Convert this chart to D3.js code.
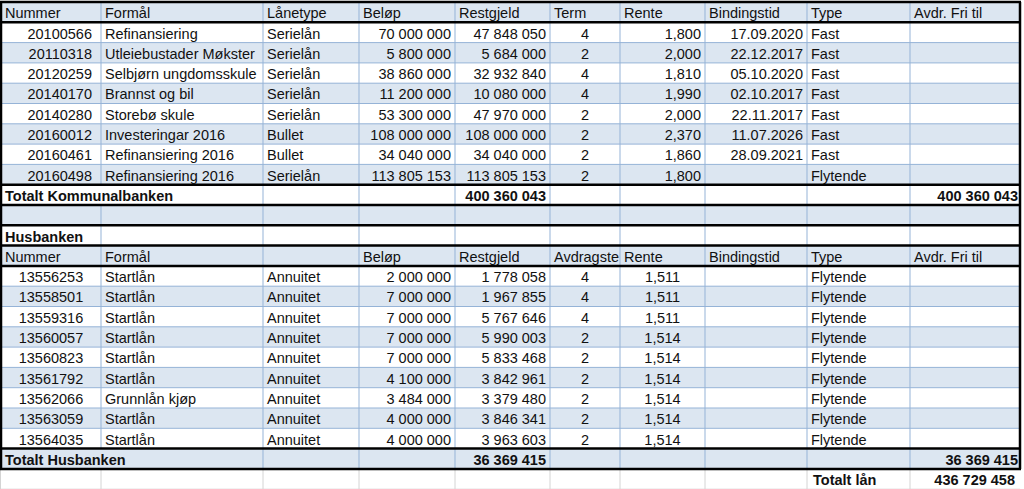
<!DOCTYPE html>
<html lang="no">
    <head>
        <meta charset="utf-8">
        <title>Lånoversikt</title>
        <script type="text/javascript" src="https://cdn.jsdelivr.net/npm/d3@7"></script>
        <style type="text/css">
            body { margin: 0; background: #fff; }
            svg text { font-family: "Liberation Sans", Arial, sans-serif; font-size: 14.5px; fill: #111; }
            svg text.bold { font-weight: bold; }
        </style>
    </head>

    <body>
        <script type="text/javascript">
            // Kommunalbanken
            var kbHeaders = ["Nummer", "Formål", "Lånetype", "Beløp", "Restgjeld", "Term", "Rente", "Bindingstid", "Type", "Avdr. Fri til"];
            var kbNummer = ["20100566", "20110318", "20120259", "20140170", "20140280", "20160012", "20160461", "20160498"];
            var kbFormal = ["Refinansiering", "Utleiebustader Møkster", "Selbjørn ungdomsskule", "Brannst og bil", "Storebø skule", "Investeringar 2016", "Refinansiering 2016", "Refinansiering 2016"];
            var kbLanetype = ["Serielån", "Serielån", "Serielån", "Serielån", "Serielån", "Bullet", "Bullet", "Serielån"];
            var kbBelop = [70000000, 5800000, 38860000, 11200000, 53300000, 108000000, 34040000, 113805153];
            var kbRestgjeld = [47848050, 5684000, 32932840, 10080000, 47970000, 108000000, 34040000, 113805153];
            var kbTerm = [4, 2, 4, 4, 2, 2, 2, 2];
            var kbRente = [1.800, 2.000, 1.810, 1.990, 2.000, 2.370, 1.860, 1.800];
            var kbBinding = ["17.09.2020", "22.12.2017", "05.10.2020", "02.10.2017", "22.11.2017", "11.07.2026", "28.09.2021", ""];
            var kbType = ["Fast", "Fast", "Fast", "Fast", "Fast", "Fast", "Fast", "Flytende"];

            // Husbanken
            var hbHeaders = ["Nummer", "Formål", "", "Beløp", "Restgjeld", "Avdragste", "Rente", "Bindingstid", "Type", "Avdr. Fri til"];
            var hbNummer = ["13556253", "13558501", "13559316", "13560057", "13560823", "13561792", "13562066", "13563059", "13564035"];
            var hbFormal = ["Startlån", "Startlån", "Startlån", "Startlån", "Startlån", "Startlån", "Grunnlån kjøp", "Startlån", "Startlån"];
            var hbLanetype = ["Annuitet", "Annuitet", "Annuitet", "Annuitet", "Annuitet", "Annuitet", "Annuitet", "Annuitet", "Annuitet"];
            var hbBelop = [2000000, 7000000, 7000000, 7000000, 7000000, 4100000, 3484000, 4000000, 4000000];
            var hbRestgjeld = [1778058, 1967855, 5767646, 5990003, 5833468, 3842961, 3379480, 3846341, 3963603];
            var hbAvdrag = [4, 4, 4, 2, 2, 2, 2, 2, 2];
            var hbRente = [1.511, 1.511, 1.511, 1.514, 1.514, 1.514, 1.514, 1.514, 1.514];
            var hbType = ["Flytende", "Flytende", "Flytende", "Flytende", "Flytende", "Flytende", "Flytende", "Flytende", "Flytende"];

            var w = 1024;
            var h = 489;
            var blue = "#dce6f1";
            var gridBlue = "#95b3d7";
            var gridGray = "#d4d4d4";

            // Norwegian number formats
            var no = d3.formatLocale({decimal: ",", thousands: " ", grouping: [3], currency: ["", ""]});
            var fmtInt = no.format(",d");
            var fmtRente = no.format(",.3f");

            var kbTotal = d3.sum(kbRestgjeld);
            var hbTotal = d3.sum(hbRestgjeld);

            // column edges
            var colEdges = [1, 101, 263, 359, 455, 550, 620, 705, 807, 910, 1020];
            var colKeys = d3.range(10);
            var x0 = d3.scaleOrdinal().domain(colKeys).range(colEdges.slice(0, 10));
            var x1 = d3.scaleOrdinal().domain(colKeys).range(colEdges.slice(1));

            // build rows: cells are {c, t, a (l|r|m), b, span}
            var rows = [];
            rows.push({cells: kbHeaders.map(function(t, i) { return {c: i, t: t, a: "l"}; })});
            kbNummer.forEach(function(n, i) {
                rows.push({cells: [
                    {c: 0, t: n, a: "r", pad: 9},
                    {c: 1, t: kbFormal[i], a: "l"},
                    {c: 2, t: kbLanetype[i], a: "l"},
                    {c: 3, t: fmtInt(kbBelop[i]), a: "r"},
                    {c: 4, t: fmtInt(kbRestgjeld[i]), a: "r"},
                    {c: 5, t: kbTerm[i], a: "m"},
                    {c: 6, t: fmtRente(kbRente[i]), a: "r"},
                    {c: 7, t: kbBinding[i], a: "r"},
                    {c: 8, t: kbType[i], a: "l"}
                ]});
            });
            rows.push({span: true, cells: [
                {c: 0, t: "Totalt Kommunalbanken", a: "l", b: true},
                {c: 4, t: fmtInt(kbTotal), a: "r", b: true},
                {c: 9, t: fmtInt(kbTotal), a: "r", b: true, pad: 2}
            ]});
            rows.push({cells: []});
            rows.push({cells: [{c: 0, t: "Husbanken", a: "l", b: true}]});
            rows.push({cells: hbHeaders.map(function(t, i) { return {c: i, t: t, a: "l"}; })});
            hbNummer.forEach(function(n, i) {
                rows.push({cells: [
                    {c: 0, t: n, a: "m"},
                    {c: 1, t: hbFormal[i], a: "l"},
                    {c: 2, t: hbLanetype[i], a: "l"},
                    {c: 3, t: fmtInt(hbBelop[i]), a: "r"},
                    {c: 4, t: fmtInt(hbRestgjeld[i]), a: "r"},
                    {c: 5, t: hbAvdrag[i], a: "m"},
                    {c: 6, t: fmtRente(hbRente[i]), a: "m"},
                    {c: 8, t: hbType[i], a: "l"}
                ]});
            });
            rows.push({span: true, cells: [
                {c: 0, t: "Totalt Husbanken", a: "l", b: true},
                {c: 4, t: fmtInt(hbTotal), a: "r", b: true},
                {c: 9, t: fmtInt(hbTotal), a: "r", b: true, pad: 2}
            ]});
            rows.push({outside: true, cells: [
                {c: 8, t: "Totalt lån", a: "l", b: true, pad: 6},
                {c: 9, t: fmtInt(kbTotal + hbTotal), a: "r", b: true, pad: 5}
            ]});

            var y = d3.scaleBand()
                        .domain(d3.range(rows.length))
                        .range([2, 2 + rows.length * 20.3]);

            var svg = d3.select("body")
                        .append("svg")
                        .attr("width", w)
                        .attr("height", h);

            // clip paths per column so header text like "Avdragste" is cut at cell edge
            var defs = svg.append("defs");
            colKeys.forEach(function(c) {
                defs.append("clipPath")
                    .attr("id", "clip" + c)
                    .append("rect")
                    .attr("x", x0(c))
                    .attr("y", 0)
                    .attr("width", x1(c) - x0(c))
                    .attr("height", h);
            });

            // row backgrounds (banded)
            svg.selectAll("rect.band")
                .data(rows)
                .enter()
                .append("rect")
                .attr("class", "band")
                .attr("x", colEdges[0])
                .attr("y", function(d, i) { return y(i); })
                .attr("width", colEdges[10] - colEdges[0])
                .attr("height", y.bandwidth())
                .attr("fill", function(d, i) { return (i % 2 === 0 && !d.outside) ? blue : "#fff"; });

            // horizontal thin lines
            svg.selectAll("line.h")
                .data(rows)
                .enter()
                .append("line")
                .attr("x1", colEdges[0])
                .attr("x2", colEdges[10])
                .attr("y1", function(d, i) { return y(i) + y.bandwidth(); })
                .attr("y2", function(d, i) { return y(i) + y.bandwidth(); })
                .attr("stroke", function(d) { return d.outside ? gridGray : gridBlue; })
                .attr("stroke-width", 1);

            // vertical thin lines per row
            rows.forEach(function(r, i) {
                for (var k = 1; k < 10; k++) {
                    if (r.span && k === 1) continue;
                    svg.append("line")
                        .attr("x1", colEdges[k])
                        .attr("x2", colEdges[k])
                        .attr("y1", y(i))
                        .attr("y2", y(i) + y.bandwidth())
                        .attr("stroke", r.outside ? gridGray : gridBlue)
                        .attr("stroke-width", 1);
                }
                if (r.outside) {
                    svg.append("line")
                        .attr("x1", 0.5).attr("x2", 0.5)
                        .attr("y1", y(i)).attr("y2", y(i) + y.bandwidth())
                        .attr("stroke", gridGray);
                }
            });

            // thick black borders
            var thickBottoms = [0, 8, 9, 10, 11, 12, 21, 22];
            var tableBottom = y(22) + y.bandwidth();
            svg.append("line")
                .attr("x1", 0).attr("x2", colEdges[10] + 1)
                .attr("y1", y(0)).attr("y2", y(0))
                .attr("stroke", "#000").attr("stroke-width", 2.5);
            svg.selectAll("line.thick")
                .data(thickBottoms)
                .enter()
                .append("line")
                .attr("x1", 0)
                .attr("x2", colEdges[10] + 1)
                .attr("y1", function(d) { return y(d) + y.bandwidth(); })
                .attr("y2", function(d) { return y(d) + y.bandwidth(); })
                .attr("stroke", "#000")
                .attr("stroke-width", 2.5);
            svg.append("line")
                .attr("x1", colEdges[0]).attr("x2", colEdges[0])
                .attr("y1", y(0)).attr("y2", tableBottom)
                .attr("stroke", "#000").attr("stroke-width", 2.5);
            svg.append("line")
                .attr("x1", colEdges[10]).attr("x2", colEdges[10])
                .attr("y1", y(0)).attr("y2", tableBottom)
                .attr("stroke", "#000").attr("stroke-width", 2.5);

            // cell texts
            rows.forEach(function(r, i) {
                var cy = y(i) + y.bandwidth() / 2 + 1;
                svg.selectAll(null)
                    .data(r.cells.filter(function(c) { return c.t !== ""; }))
                    .enter()
                    .append("text")
                    .attr("class", function(c) { return c.b ? "bold" : null; })
                    .attr("clip-path", function(c) { return (r.span && c.c === 0) ? null : "url(#clip" + c.c + ")"; })
                    .attr("x", function(c) {
                        var pad = c.pad !== undefined ? c.pad : (c.a === "l" ? 4 : 4);
                        if (c.a === "l") return x0(c.c) + pad;
                        if (c.a === "r") return x1(c.c) - pad;
                        return (x0(c.c) + x1(c.c)) / 2;
                    })
                    .attr("y", cy)
                    .attr("dy", "0.35em")
                    .attr("text-anchor", function(c) { return c.a === "l" ? "start" : (c.a === "r" ? "end" : "middle"); })
                    .text(function(c) { return c.t; });
            });
        </script>
    </body>
</html>
